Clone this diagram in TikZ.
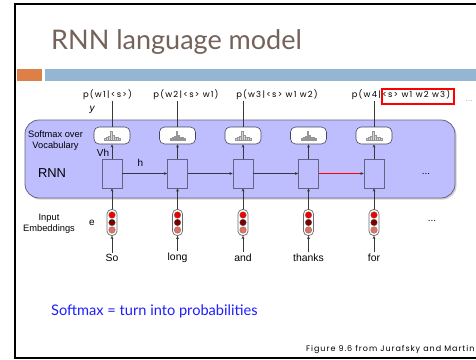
\documentclass[tikz,border=0pt]{standalone}
\usepackage{fontspec}
\setmainfont{Liberation Sans}
\newfontfamily\slidefont{Lato}
\newfontfamily\labfont[LetterSpace=14]{Poppins}
\newfontfamily\creditfont[LetterSpace=12]{Poppins}
\usetikzlibrary{arrows.meta,shadows}

\definecolor{titlebrown}{RGB}{117,98,90}
\definecolor{barorange}{RGB}{221,128,71}
\definecolor{barblue}{RGB}{148,182,210}
\definecolor{rnnfill}{RGB}{190,190,255}
\definecolor{rnnedge}{RGB}{100,100,130}
\definecolor{linkgray}{RGB}{55,55,60}
\definecolor{softblue}{RGB}{30,30,255}
\definecolor{embred}{RGB}{240,0,0}
\definecolor{embdark}{RGB}{120,0,0}
\definecolor{embsalmon}{RGB}{228,112,95}
\definecolor{histgray}{RGB}{150,150,150}

\begin{document}
\begin{tikzpicture}[x=1pt,y=-1pt,
  cell/.style={draw=rnnedge, fill=rnnfill, line width=0.6pt, minimum width=20pt, minimum height=29pt, inner sep=0pt},
  smx/.style={draw=rnnedge!70!black, fill=white, rounded corners=5pt, line width=0.6pt, minimum width=36pt, minimum height=17pt, inner sep=0pt},
  capsule/.style={draw=gray!85!black, fill=white, rounded corners=4.5pt, line width=0.7pt, minimum width=10pt, minimum height=26pt, inner sep=0pt},
  link/.style={draw=linkgray, line width=0.5pt, -{Stealth[length=3.2pt,width=2.8pt]}},
  plain/.style={draw=linkgray, line width=0.5pt},
  word/.style={font=\fontsize{10.4}{12}\selectfont, inner sep=1pt},
  side/.style={font=\fontsize{9.3}{11}\selectfont, align=center, inner sep=0pt},
  plabel/.style={font=\labfont\fontsize{8.4}{10}\selectfont, inner sep=1pt},
  histo/.style={draw=histgray, fill=histgray!40, line width=0.35pt},
  dot/.style={draw=black!60, line width=0.3pt}
]
\useasboundingbox (0,0) rectangle (476,359);
\clip (0,0) rectangle (476,359);
\fill[white] (0,0) rectangle (476,359);

% slide frame
\draw[black, line width=2pt] (476,4) -- (15,4) -- (15,357.5) -- (476,357.5);

% title and header bars
\node[anchor=base west, inner sep=0pt, text=titlebrown, font=\slidefont\fontsize{27}{32}\selectfont] (title) at (51,49.5) {RNN language model};
\fill[barorange] (17,69) rectangle (42,81);
\fill[barblue] (45,69) rectangle (476,81);

% recurrent layer panel
\node[draw=rnnedge, fill=rnnfill, line width=0.8pt, rounded corners=14pt,
      minimum width=430pt, minimum height=78pt, inner sep=0pt,
      drop shadow={shadow xshift=1.6pt, shadow yshift=-1.6pt, opacity=0.35}] (panel) at (240,159) {};

% side labels
\node[side] (lsoft) at (55.5,140.5) {Softmax over\\Vocabulary};
\node[font=\fontsize{12.9}{14}\selectfont, inner sep=0pt] (lrnn) at (52,173.5) {RNN};
\node[side] (lemb) at (49,224) {Input\\Embeddings};
\node[font=\fontsize{10}{12}\selectfont, inner sep=0pt] (le) at (92,223) {e};
\node[font=\fontsize{10}{12}\selectfont\itshape, inner sep=0pt] (ly) at (92,110) {y};

% time steps
\foreach \i/\x/\w in {1/112/So, 2/177.5/long, 3/243/and, 4/308.5/thanks, 5/374/for} {
  \node[cell] (c\i) at (\x,173.5) {};
  \node[smx] (s\i) at (\x,135.5) {};
  \node[capsule] (e\i) at (\x,222.5) {};
  \node[word] (w\i) at (\x,257.5) {\w};
  \foreach \dx/\h in {-7/2,-5/3,-3/4.5,-1/9,1/5.5,3/3,5/3.5,7/2}
    \draw[histo] ([shift={(\dx-0.7,-4)}]s\i.south) rectangle ++(1.4,-\h);
  \draw[dot, fill=embred] ([yshift=7.5]e\i.center) circle (3.3pt);
  \draw[dot, fill=embdark] (e\i.center) circle (3.3pt);
  \draw[dot, fill=embsalmon] ([yshift=-7.5]e\i.center) circle (3.3pt);
  \draw[link] (w\i.north) -- (e\i.south);
  \draw[link] (e\i.north) -- (c\i.south);
  \draw[link] (c\i.north) -- (s\i.south);
}

% hidden state passed along
\foreach \a/\b in {1/2,2/3,3/4,4/5}
  \draw[link] (c\a.east) -- (c\b.west);
\draw[red, line width=1.4pt] (c4.east) -- ([xshift=-3.5pt]c5.west);

\node[font=\fontsize{10}{12}\selectfont, inner sep=0pt] (lvh) at (103,152.5) {Vh};
\node[font=\fontsize{10}{12}\selectfont, inner sep=0pt] (lh) at (140.5,162.5) {h};

% continuation marks
\node[font=\fontsize{10}{12}\selectfont, inner sep=0pt] (more1) at (426,174) {...};
\node[font=\fontsize{10}{12}\selectfont, inner sep=0pt] (more2) at (432,221) {...};
\node[text=gray, font=\labfont\fontsize{7}{8}\selectfont, inner sep=0pt] (more3) at (469,101) {...};

% output probabilities
\node[plabel] (p1) at (107.5,95) {p(w1\,|\,<s>)};
\node[plabel] (p2) at (186,95) {p(w2\,|\,<s> w1)};
\node[plabel] (p3) at (277,95) {p(w3\,|\,<s> w1 w2)};
\node[plabel] (p4) at (401,95) {p(w4\,|\,<s> w1 w2 w3)};
\foreach \i/\p in {1/p1,2/p2,3/p3,5/p4}
  \draw[plain] (s\i.north) -- (s\i.north |- \p.south);
\node[draw=red, line width=1.5pt, minimum width=72pt, minimum height=15pt, inner sep=0pt] (focus) at (418,96.5) {};

% footnotes
\node[anchor=base west, inner sep=0pt, text=softblue, font=\slidefont\fontsize{14.6}{17}\selectfont] (note) at (51,315) {Softmax = turn into probabilities};
\node[anchor=base west, inner sep=0pt, font=\creditfont\fontsize{8}{9}\selectfont] (credit) at (306,351) {Figure 9.6 from Jurafsky and Martin};
\end{tikzpicture}
\end{document}
